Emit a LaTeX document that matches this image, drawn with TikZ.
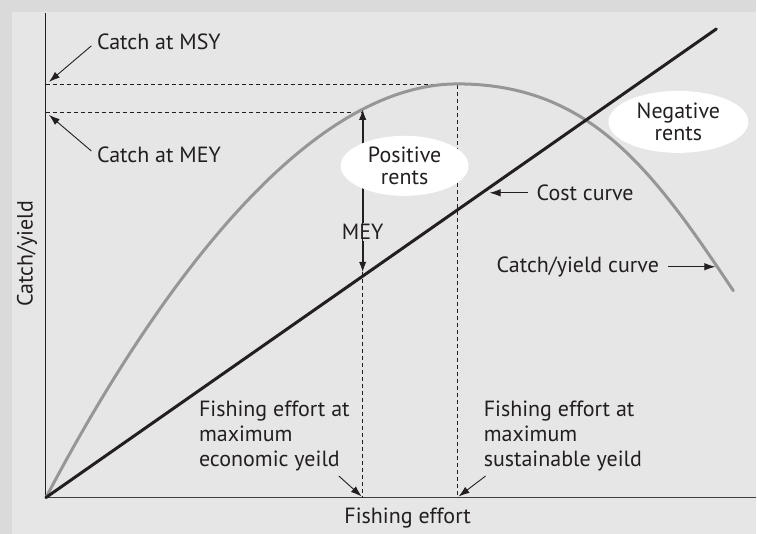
\documentclass[tikz,border=0pt]{standalone}
\usepackage{fontspec}
\setmainfont{PT Sans}
\usetikzlibrary{shapes.geometric,arrows.meta}
\definecolor{framegray}{RGB}{218,218,218}
\definecolor{panelgray}{RGB}{230,230,230}
\definecolor{yieldgray}{RGB}{150,150,150}
\definecolor{inkblack}{RGB}{35,31,32}
\tikzset{
    lbl/.style={font=\fontsize{22}{25}\selectfont, text=inkblack, inner sep=1pt},
    rentsbubble/.style={ellipse, fill=white, align=center, inner sep=0pt, font=\fontsize{22}{25}\selectfont, text=inkblack},
    guide/.style={inkblack, line width=0.8pt, dash pattern=on 4pt off 3pt},
    pointer/.style={inkblack, line width=0.9pt, -{Latex[length=11pt,width=7.5pt]}}
}
\begin{document}
\begin{tikzpicture}[x=1pt,y=-1pt]
        % frame and panel
        \fill [framegray] (0,0) rectangle (757,534);
        \fill [panelgray] (12,12) rectangle (757,534);
        % axes
        \coordinate (O) at (46,498);
        \coordinate (ytop) at (46,13);
        \coordinate (xend) at (757,498);
        \draw [inkblack,line width=1pt] (ytop) -- (O);
        \draw [black!75,line width=1.4pt] (O) -- (xend);
        % MSY and MEY points
        \coordinate (msy) at (458,84);
        \coordinate (mey) at (363,113);
        \coordinate (msyY) at (46,84);
        \coordinate (meyY) at (46,113);
        \coordinate (msyX) at (458,498);
        \coordinate (meyX) at (363,498);
        \draw [guide] (msyY) -- (msy) -- (msyX);
        \draw [guide] (meyY) -- (mey) -- (meyX);
        % catch/yield curve
        \coordinate (yieldend) at (734,291);
        \draw [yieldgray,line width=3pt,line cap=round] (O) .. controls (113,371) and (279,84) .. (msy)
            .. controls (591,84) and (654,171) .. (yieldend);
        % cost curve
        \coordinate (costend) at (717,29);
        \coordinate (meycost) at (363,273);
        \draw [inkblack,line width=3pt,line cap=round] (O) -- (costend);
        % MEY gap
        \node [lbl] (meylbl) at (363,232) {MEY};
        \draw [pointer,line width=2pt] (meylbl.north) -- ([yshift=4pt]mey);
        \draw [pointer,line width=2pt] (meylbl.south) -- (meycost);
        % rents
        \node [rentsbubble,minimum width=128pt,minimum height=60pt] (posrents) at (405,166) {Positive\\[-3pt]rents};
        \node [rentsbubble,minimum width=140pt,minimum height=62pt] (negrents) at (679,122) {Negative\\[-3pt]rents};
        % labels with pointers
        \node [lbl,anchor=west] (catchmsy) at (96,42) {Catch at MSY};
        \node [lbl,anchor=west] (catchmey) at (96,155) {Catch at MEY};
        \draw [pointer,shorten <=6pt] (catchmsy.west) -- ([shift={(3,-2)}]msyY);
        \draw [pointer,shorten <=6pt] (catchmey.west) -- ([shift={(3,2)}]meyY);
        \node [lbl,anchor=west] (costlbl) at (536,193) {Cost curve};
        \draw [pointer,shorten <=8pt] (costlbl.west) -- (490,193);
        \node [lbl,anchor=west] (yieldlbl) at (496,267) {Catch/yield curve};
        \draw [pointer,shorten <=8pt] (yieldlbl.east) -- (716,267);
        \node [lbl,anchor=north west,align=left] (effmey) at (198,400) {Fishing effort at\\maximum\\economic yeild};
        \node [lbl,anchor=north west,align=left] (effmsy) at (483,400) {Fishing effort at\\maximum\\sustainable yeild};
        \draw [pointer] ([shift={(-12,4)}]effmey.south east) -- ([shift={(-1,-1)}]meyX);
        \draw [pointer] ([shift={(3,4)}]effmsy.south west) -- ([shift={(1,-1)}]msyX);
        % axis titles
        \node [lbl] (xtitle) at (408,519) {Fishing effort};
        \node [lbl,rotate=90] (ytitle) at (27,254) {Catch/yield};
\end{tikzpicture}
\end{document}
